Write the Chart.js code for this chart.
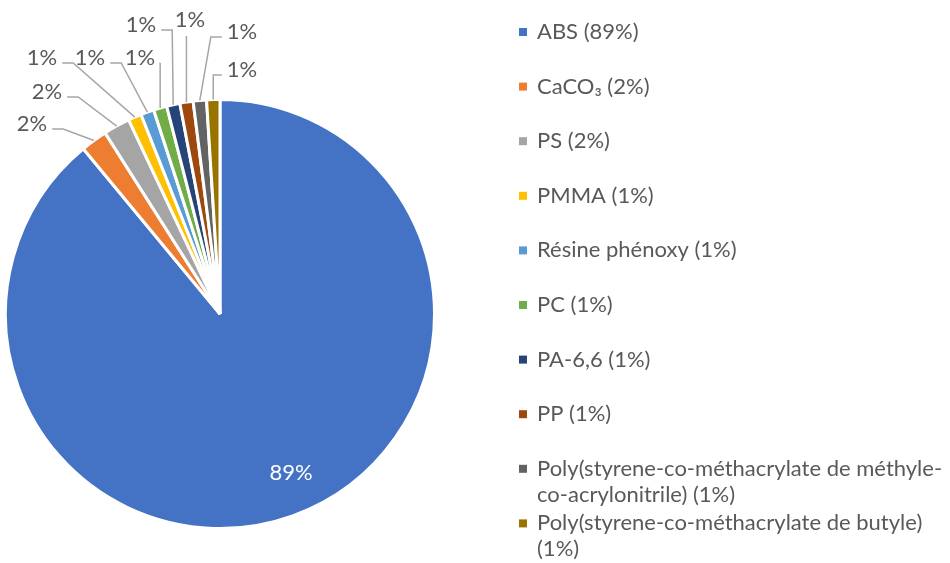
<!DOCTYPE html>
<html>
<head>
<meta charset="utf-8">
<script src="https://cdn.jsdelivr.net/npm/chart.js@4/dist/chart.umd.min.js"></script>
<style>
  html, body { margin: 0; padding: 0; background: #fff; }
</style>
</head>
<body>
<canvas id="pie-chart" width="950" height="563"></canvas>
<script>
// Data
const categories = [
  'ABS',
  'CaCO₃',
  'PS',
  'PMMA',
  'Résine phénoxy',
  'PC',
  'PA-6,6',
  'PP',
  'Poly(styrene-co-méthacrylate de méthyle-co-acrylonitrile)',
  'Poly(styrene-co-méthacrylate de butyle)'
];
const shares = [89, 2, 2, 1, 1, 1, 1, 1, 1, 1];
const sliceColors = ['#4472C4', '#ED7D31', '#A5A5A5', '#FFC000', '#5B9BD5',
  '#70AD47', '#264478', '#9E480E', '#636363', '#997300'];

// Where each percentage label sits, and which side its leader line leaves from
const labelPlacement = [
  { x: 291, y: 473, side: 'in' },
  { x: 32, y: 124, side: 'r' },
  { x: 47, y: 92, side: 'r' },
  { x: 42, y: 58, side: 'r' },
  { x: 90, y: 58, side: 'r' },
  { x: 140, y: 58, side: 'r' },
  { x: 141, y: 25, side: 'r' },
  { x: 190, y: 20, side: 'b' },
  { x: 242, y: 32, side: 'l' },
  { x: 242, y: 70, side: 'l' }
];

const FONT = '22px Lato';
const TEXT_COLOR = '#595959';

function wrapText(ctx, text, maxWidth) {
  // break after spaces and hyphens
  const parts = text.match(/[^\s-]+-?\s*|\s+/g);
  const lines = [];
  let line = '';
  parts.forEach(p => {
    if (line && ctx.measureText((line + p).trimEnd()).width > maxWidth) {
      lines.push(line.trimEnd());
      line = p;
    } else {
      line += p;
    }
  });
  if (line) lines.push(line.trimEnd());
  return lines;
}

// Percentage labels with leader lines
const pieLabels = {
  id: 'pieLabels',
  afterDatasetsDraw(chart) {
    const ctx = chart.ctx;
    const arcs = chart.getDatasetMeta(0).data;
    ctx.save();
    ctx.font = FONT;
    ctx.textAlign = 'center';
    ctx.textBaseline = 'middle';
    arcs.forEach((arc, i) => {
      const { x, y, startAngle, endAngle, outerRadius } =
        arc.getProps(['x', 'y', 'startAngle', 'endAngle', 'outerRadius'], true);
      const pos = labelPlacement[i];
      const text = shares[i] + '%';
      if (pos.side === 'in') {
        ctx.fillStyle = '#fff';
        ctx.fillText(text, pos.x, pos.y);
        return;
      }
      const mid = (startAngle + endAngle) / 2;
      const ax = x + Math.cos(mid) * outerRadius;
      const ay = y + Math.sin(mid) * outerRadius;
      const w = ctx.measureText(text).width;

      ctx.strokeStyle = '#A6A6A6';
      ctx.lineWidth = 1.5;
      ctx.beginPath();
      if (pos.side === 'b') {
        ctx.moveTo(ax, pos.y + 16);
        ctx.lineTo(ax, ay);
      } else {
        const dir = pos.side === 'r' ? 1 : -1;
        const sx = pos.x + dir * (w / 2 + 5);
        const sy = pos.y + 5;
        const ex = dir > 0 ? Math.min(sx + 11, ax) : Math.max(sx - 11, ax);
        ctx.moveTo(sx, sy);
        ctx.lineTo(ex, sy);
        ctx.lineTo(ax, ay);
      }
      ctx.stroke();

      ctx.fillStyle = TEXT_COLOR;
      ctx.fillText(text, pos.x, pos.y);
    });
    ctx.restore();
  }
};

// Legend on the right, one row per slice
const sideLegend = {
  id: 'sideLegend',
  afterDraw(chart) {
    const ctx = chart.ctx;
    const bg = chart.data.datasets[0].backgroundColor;
    ctx.save();
    ctx.font = FONT;
    ctx.textAlign = 'left';
    ctx.textBaseline = 'middle';
    chart.data.labels.forEach((label, i) => {
      const rowY = 32 + i * 54.6;
      ctx.fillStyle = bg[i];
      ctx.fillRect(519, rowY - 4, 8, 8);
      ctx.fillStyle = TEXT_COLOR;
      const lines = wrapText(ctx, `${label} (${shares[i]}%)`, 950 - 537 - 4);
      lines.forEach((ln, k) => ctx.fillText(ln, 537, rowY + k * 26));
    });
    ctx.restore();
  }
};

const pieChart = new Chart(document.getElementById('pie-chart').getContext('2d'), {
  type: 'pie',
  data: {
    labels: categories,
    datasets: [{
      data: shares,
      backgroundColor: sliceColors,
      borderColor: '#fff',
      borderWidth: 3
    }]
  },
  options: {
    responsive: false,
    animation: false,
    layout: {
      padding: { left: 4, top: 98, right: 514, bottom: 33 }
    },
    plugins: {
      legend: { display: false },
      tooltip: { enabled: false }
    }
  },
  plugins: [pieLabels, sideLegend]
});
</script>
</body>
</html>
